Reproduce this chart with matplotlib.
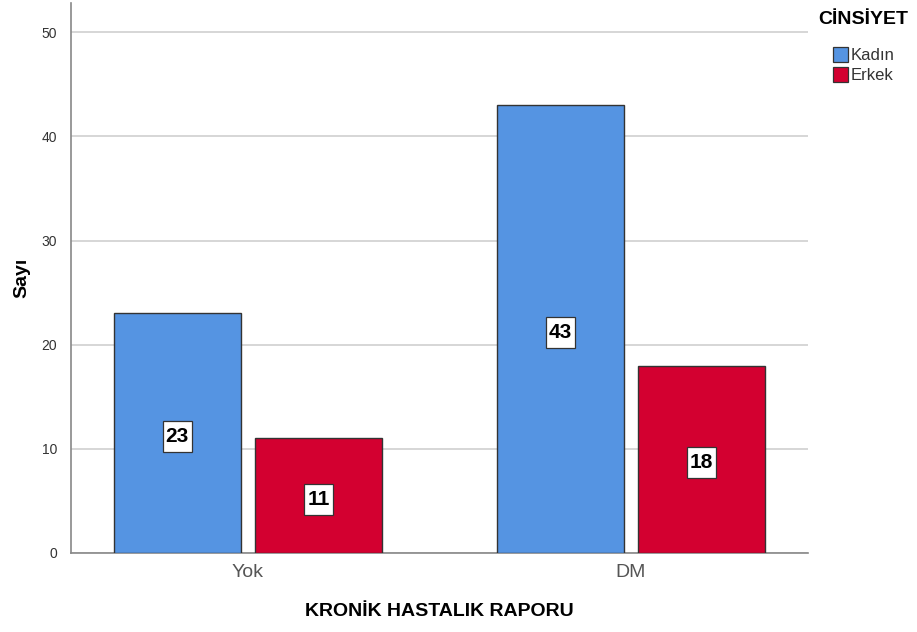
import matplotlib
matplotlib.use("Agg")
import matplotlib.pyplot as plt
import numpy as np
from matplotlib.patches import Rectangle
from matplotlib.transforms import ScaledTranslation

plt.rcParams['font.family'] = ['Liberation Sans', 'DejaVu Sans']

categories = ["Yok", "DM"]
groups = ["Kadın", "Erkek"]
kadin = [23, 43]
erkek = [11, 18]
colors = ["#5594E2", "#D30030"]

W, H = 917, 632
fig = plt.figure(figsize=(W / 100, H / 100), dpi=100)
ax = fig.add_axes([0.0774, 0.125, 0.8036, 0.870])

x = np.arange(len(categories))
width = 0.332
offset = 0.1845
for vals, off, col in [(kadin, -offset, colors[0]), (erkek, offset, colors[1])]:
    bars = ax.bar(x + off, vals, width=width, color=col, edgecolor="#333333",
                  linewidth=1.0, zorder=3)
    for b, v in zip(bars, vals):
        # value label in a fixed-size white box centred on the bar
        trans = fig.dpi_scale_trans + ScaledTranslation(
            b.get_x() + b.get_width() / 2, v / 2, ax.transData)
        ax.add_patch(Rectangle((-0.145, -0.19), 0.29, 0.31, transform=trans,
                               facecolor="white", edgecolor="#333333",
                               linewidth=0.9, zorder=4))
        ax.text(0, -0.035, str(v), transform=trans, ha="center", va="center",
                fontsize=15, fontweight="bold", color="black", zorder=5)

ax.set_xlim(-0.462, 1.462)
ax.set_ylim(0, 52.8)
ax.set_yticks([0, 10, 20, 30, 40, 50])
ax.yaxis.grid(True, color="#D0D0D0", linewidth=1.2, zorder=0)
ax.set_axisbelow(True)
ax.set_xticks(x)
ax.set_xticklabels(categories, fontsize=14, color="#555555")
ax.tick_params(axis="x", length=0, pad=8)
ax.tick_params(axis="y", length=0, labelsize=10, labelcolor="#333333", pad=10)

for s in ["top", "right"]:
    ax.spines[s].set_visible(False)
for s in ["left", "bottom"]:
    ax.spines[s].set_color("#888888")
    ax.spines[s].set_linewidth(1.2)

ax.set_xlabel("KRONİK HASTALIK RAPORU", fontsize=14, fontweight="bold", labelpad=16)
ax.set_ylabel("Sayı", fontsize=14, fontweight="bold", labelpad=8)

# legend drawn in figure pixel coordinates
fig.text(818 / W, 1 - 20 / H, "CİNSİYET", fontsize=14, fontweight="bold",
         ha="left", va="center")
for i, (g, c) in enumerate(zip(groups, colors)):
    y0 = 47 + i * 20
    fig.patches.append(Rectangle((833 / W, 1 - (y0 + 15) / H), 15 / W, 15 / H,
                                 transform=fig.transFigure, facecolor=c,
                                 edgecolor="#333333", linewidth=0.9))
    fig.text(851 / W, 1 - (y0 + 8) / H, g, fontsize=12, color="#333333",
             ha="left", va="center")

fig.savefig("out.png", dpi=100)
